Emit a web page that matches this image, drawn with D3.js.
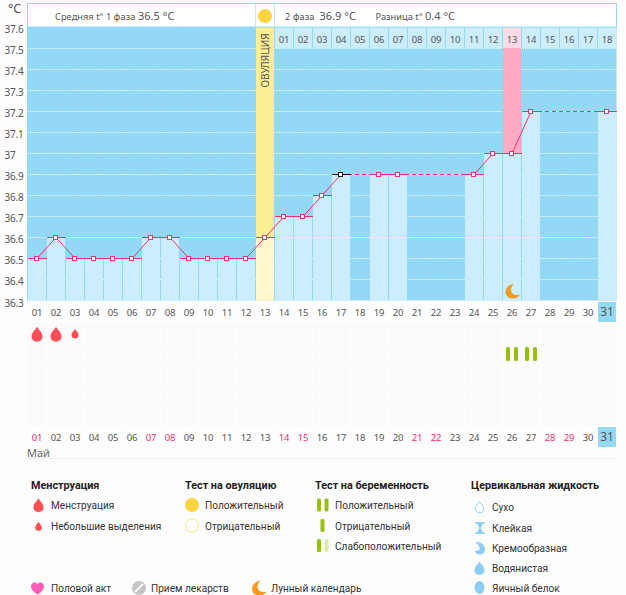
<!DOCTYPE html>
<html>
<head>
<meta charset="utf-8">
<script src="https://cdn.jsdelivr.net/npm/d3@7/dist/d3.min.js"></script>
<style>
html, body { margin: 0; padding: 0; background: #fdfdfd; overflow: hidden; }
svg { display: block; }
text { font-family: "Noto Sans", sans-serif; fill: #555; }
.legend text { font-family: Roboto, sans-serif; fill: #333; font-size: 10.1px; }
.legend text.title { font-weight: 700; font-size: 10.8px; fill: #222; }
</style>
</head>
<body>
<div id="chart"></div>
<script>
// values
const days = d3.range(1, 32).map(d => String(d).padStart(2, "0"));
const temps = [36.5, 36.6, 36.5, 36.5, 36.5, 36.5, 36.6, 36.6, 36.5, 36.5, 36.5, 36.5, 36.6, 36.7, 36.7, 36.8, 36.9,
    null, 36.9, 36.9, null, null, null, 36.9, 37, 37, 37.2, null, null, null, 37.2];
const tempTicks = [37.6, 37.5, 37.4, 37.3, 37.2, 37.1, 37, 36.9, 36.8, 36.7, 36.6, 36.5, 36.4, 36.3];
const secondPhaseDays = days.slice(13);
const secondPhaseLabels = d3.range(1, 19).map(d => String(d).padStart(2, "0"));
const redDays = ["01", "07", "08", "14", "15", "21", "22", "28", "29"];
const mensesDays = ["01", "02"];
const spottingDays = ["03"];
const pregTestDays = ["26", "27"];
const ovulationDay = "13";
const pinkDay = "26";
const today = "17";
const todayMonthDay = "31";
const coverline = 36.6;
const rows = [0, 1, 2, 3, 4];

const legendMenses = ["Менструация", "Небольшие выделения"];
const legendOvul = ["Положительный", "Отрицательный"];
const legendPreg = ["Положительный", "Отрицательный", "Слабоположительный"];
const legendFluid = ["Сухо", "Клейкая", "Кремообразная", "Водянистая", "Яичный белок"];

const PINK = "#f2316c", BLUE = "#93d9f5", LIGHT = "#cbedfd", GREEN = "#97c00e", DROP = "#ff4d55", FLUID = "#8ccdf3";

const W = 626, H = 595;
const svg = d3.select("#chart").append("svg").attr("width", W).attr("height", H);

const x = d3.scaleBand().domain(days).range([27.5, 616.5]);
const y = d3.scaleLinear().domain([36.3, 37.6]).range([300.5, 26.5]);
const cx = d => x(d) + x.bandwidth() / 2;
const crispY = v => Math.round(y(v)) + 0.5;
const colW = x.bandwidth() - 1;

const defs = svg.append("defs");
const pat = defs.append("pattern").attr("id", "hatch").attr("width", 2).attr("height", 2)
    .attr("patternUnits", "userSpaceOnUse");
pat.append("rect").attr("width", 2).attr("height", 2).attr("fill", "#fcfcfc");
pat.append("rect").attr("width", 1).attr("height", 1).attr("fill", "#f6f6f6");

// =========================
// PLOT BACKGROUND
// =========================
svg.append("rect").attr("x", 27).attr("y", y(37.6)).attr("width", 589.5)
    .attr("height", y(36.3) - y(37.6)).attr("fill", BLUE);

// dotted grid
svg.append("g").selectAll("line").data(tempTicks.slice(1))
    .join("line")
    .attr("x1", 28).attr("x2", 616)
    .attr("y1", d => crispY(d)).attr("y2", d => crispY(d))
    .attr("stroke", "#fff").attr("stroke-dasharray", "1 1.2");

// ovulation + pink columns (upper part)
svg.append("rect").attr("x", x(ovulationDay) + 0.5).attr("width", colW)
    .attr("y", y(37.6)).attr("height", y(36.3) - y(37.6)).attr("fill", "#fcef93");
svg.append("rect").attr("x", x(pinkDay) + 0.5).attr("width", colW)
    .attr("y", y(37.5)).attr("height", y(37) - y(37.5)).attr("fill", "#ffabc1");

// bars under the temperature
svg.append("g").selectAll("rect")
    .data(days.map((d, i) => ({ day: d, t: temps[i] })).filter(d => d.t !== null))
    .join("rect")
    .attr("x", d => x(d.day) + 0.5)
    .attr("width", colW)
    .attr("y", d => y(d.t))
    .attr("height", d => y(36.3) - y(d.t))
    .attr("fill", d => d.day === ovulationDay ? "#fff8cc" : LIGHT);

// coverline
svg.append("line").attr("x1", 47).attr("x2", 590)
    .attr("y1", crispY(coverline)).attr("y2", crispY(coverline))
    .attr("stroke", "#f8f4a8");

// =========================
// HEADER
// =========================
svg.append("rect").attr("x", 27.5).attr("y", 3.5).attr("width", 589).attr("height", 23.5)
    .attr("fill", "#fff").attr("stroke", BLUE);
svg.append("line").attr("x1", 255.5).attr("x2", 255.5).attr("y1", 3.5).attr("y2", 27).attr("stroke", "#c6e9f8");
svg.append("line").attr("x1", 274.5).attr("x2", 274.5).attr("y1", 3.5).attr("y2", 27).attr("stroke", "#c6e9f8");
svg.append("circle").attr("cx", cx(ovulationDay)).attr("cy", 16).attr("r", 7).attr("fill", "#fdd343");

const headerText = [
    ["Средняя t° 1 фаза", 55, 9.3], ["36.5 °C", 138, 11],
    ["2 фаза", 285, 9.3], ["36.9 °C", 319.5, 11],
    ["Разница t°", 375.5, 9.3], ["0.4 °C", 425, 11]
];
svg.append("g").selectAll("text").data(headerText).join("text")
    .attr("x", d => d[1]).attr("y", 19.5)
    .style("font-size", d => d[2] + "px")
    .text(d => d[0]);

svg.append("text").attr("x", 8).attr("y", 13).style("font-size", "12.5px").text("°C");

svg.append("text")
    .attr("transform", `translate(${cx(ovulationDay) + 3.5},87.5) rotate(-90)`)
    .style("font-size", "10px").text("ОВУЛЯЦИЯ");

// second phase day numbers
const phaseX = d3.scaleOrdinal().domain(secondPhaseLabels).range(secondPhaseDays);
svg.append("g").selectAll("rect").data(secondPhaseDays).join("rect")
    .attr("x", d => x(d) + 0.5).attr("y", 27.5).attr("width", colW).attr("height", 20.5)
    .attr("fill", d => d === pinkDay ? "#fcdbe5" : LIGHT);
svg.append("g").selectAll("text").data(secondPhaseLabels).join("text")
    .attr("x", d => cx(phaseX(d))).attr("y", 43).attr("text-anchor", "middle")
    .style("font-size", "9.5px").style("letter-spacing", "-0.2px").text(d => d);

// =========================
// AXES
// =========================
const yAxis = svg.append("g").attr("transform", "translate(27,0)")
    .call(d3.axisLeft(y).tickValues(tempTicks).tickSize(0).tickFormat(d => String(d)));
yAxis.select(".domain").remove();
yAxis.selectAll("text").attr("x", -22.5).attr("text-anchor", "start")
    .attr("dy", "0.55em").style("font-size", "10px").style("letter-spacing", "-0.2px").style("font-family", null);

function dayAxis(top) {
    const g = svg.append("g").attr("transform", `translate(0,${top})`)
        .call(d3.axisBottom(x).tickSize(0).tickFormat(d => d));
    g.select(".domain").remove();
    g.selectAll("text").style("font-size", "9.5px").style("letter-spacing", "-0.2px").style("font-family", null);
    return g;
}
// highlighted current day cells sit under the labels
svg.append("g").selectAll("rect").data([302, 427]).join("rect")
    .attr("x", x(todayMonthDay) + 0.5).attr("y", d => d).attr("width", colW).attr("height", 20).attr("fill", BLUE);

const axisTop = dayAxis(306);
const axisBot = dayAxis(431);
axisBot.selectAll("text").style("fill", d => redDays.includes(d) ? "#f2316c" : null);
[axisTop, axisBot].forEach(g => g.selectAll("text")
    .filter(d => d === todayMonthDay).style("font-size", "12px").attr("dy", "0.6em"));

svg.append("text").attr("x", 27).attr("y", 457).style("font-size", "11px").style("fill", "#666")
    .text("Май");
svg.append("line").attr("x1", 26).attr("x2", 616).attr("y1", 458.5).attr("y2", 458.5).attr("stroke", "#eee");

// =========================
// TEMPERATURE LINE
// =========================
const measured = days.map((d, i) => ({ day: d, t: temps[i] })).filter(d => d.t !== null);
const line = d3.line().x(d => cx(d.day)).y(d => crispY(d.t));
const isGap = d => days.indexOf(d[1].day) - days.indexOf(d[0].day) > 1;

svg.append("g").selectAll("path").data(d3.pairs(measured)).join("path")
    .attr("d", line)
    .attr("fill", "none")
    .attr("stroke", PINK)
    .attr("stroke-width", 1)
    .attr("stroke-dasharray", d => isGap(d) ? "4 3" : null);

svg.append("g").selectAll("line").data(measured).join("line")
    .attr("x1", d => x(d.day)).attr("x2", d => x(d.day) + x.bandwidth())
    .attr("y1", d => crispY(d.t)).attr("y2", d => crispY(d.t))
    .attr("stroke", d => d.day === today ? "#111" : PINK).attr("shape-rendering", "crispEdges");

svg.append("g").selectAll("rect").data(measured).join("rect")
    .attr("x", d => cx(d.day) - 2.5).attr("y", d => crispY(d.t) - 2)
    .attr("width", 4).attr("height", 4)
    .attr("fill", "#fff").attr("shape-rendering", "crispEdges")
    .attr("stroke", d => d.day === today ? "#111" : PINK).attr("stroke-width", 1);

// moon on the pink day
const moonPath = "M1.5,-7.5 C-3.5,-6.5 -7,-3 -7,1 C-7,5 -3.5,7.5 0,7.5 C3.5,7.5 6,6 7.5,3.5 C3.5,5 -1,3.5 -1.5,-0.5 C-1.8,-3 -0.5,-5.5 1.5,-7.5 Z";
svg.append("path").attr("d", moonPath).attr("fill", "#f39a1c")
    .attr("transform", `translate(${cx(pinkDay) + 0.5},291)`);

// =========================
// TRACKER CELLS
// =========================
const rowY = d3.scaleBand().domain(rows).range([324, 427]);
svg.append("g").selectAll("g").data(rows).join("g")
    .selectAll("rect").data(r => days.map(d => ({ r, d }))).join("rect")
    .attr("x", d => x(d.d) + 0.5).attr("width", colW)
    .attr("y", d => rowY(d.r)).attr("height", rowY.bandwidth() - 1.5)
    .attr("fill", "url(#hatch)");

const dropPath = "M0,-10 C1.5,-6.5 7,-3 7,2.5 C7,6.5 4,9 0,9 C-4,9 -7,6.5 -7,2.5 C-7,-3 -1.5,-6.5 0,-10 Z";
function drop(parent, px, py, s, fill) {
    return parent.append("path").attr("d", dropPath).attr("fill", fill)
        .attr("transform", `translate(${px},${py}) scale(${s})`);
}
mensesDays.forEach(d => drop(svg, cx(d), 334.5, 0.78, DROP));
spottingDays.forEach(d => drop(svg, cx(d), 334, 0.5, DROP));

function pill(parent, px, py, h, fill) {
    parent.append("rect").attr("x", px - 2).attr("y", py - h / 2).attr("width", 4).attr("height", h)
        .attr("rx", 1.5).attr("fill", fill);
}
pregTestDays.forEach(d => {
    pill(svg, cx(d) - 4, 354, 14, GREEN);
    pill(svg, cx(d) + 4, 354, 14, GREEN);
});

// =========================
// LEGEND
// =========================
const legend = svg.append("g").attr("class", "legend");
function title(px, s) { legend.append("text").attr("class", "title").attr("x", px).attr("y", 489).text(s); }
function item(px, py, s) { legend.append("text").attr("x", px).attr("y", py + 4).text(s); }

title(31, "Менструация");
title(185, "Тест на овуляцию");
title(315, "Тест на беременность");
title(471, "Цервикальная жидкость");

const rowsMain = [505, 526, 546];
legendMenses.forEach((s, i) => item(51, rowsMain[i], s));
legendOvul.forEach((s, i) => item(205, rowsMain[i], s));
legendPreg.forEach((s, i) => item(335, rowsMain[i], s));

drop(legend, 38.5, 505.5, 0.72, DROP);
drop(legend, 38.5, 526.5, 0.48, DROP);

legend.append("circle").attr("cx", 192).attr("cy", 505).attr("r", 7).attr("fill", "#fdd343");
legend.append("circle").attr("cx", 192).attr("cy", 525.5).attr("r", 6.5).attr("fill", "#fff").attr("stroke", "#fde27a");

pill(legend, 319, 505, 13, GREEN);
pill(legend, 326.5, 505, 13, GREEN);
pill(legend, 322.5, 525.5, 13, GREEN);
pill(legend, 319, 545.5, 13, GREEN);
pill(legend, 326.5, 545.5, 13, "#dcebb4");

const fluidRows = [507, 528, 548, 568, 588];
legendFluid.forEach((s, i) => item(492, fluidRows[i], s));
drop(legend, 479.5, 507.5, 0.6, "#fff").attr("stroke", FLUID).attr("stroke-width", 1.6);
legend.append("path").attr("d", "M-5,-6 H5 V-4.5 H3 C2,-2 0.8,-1 0.8,0 C0.8,1 2,2 3,4.5 H5 V6 H-5 V4.5 H-3 C-2,2 -0.8,1 -0.8,0 C-0.8,-1 -2,-2 -3,-4.5 H-5 Z")
    .attr("fill", FLUID).attr("transform", "translate(480,528)");
legend.append("path").attr("d", "M-4.5,-6 C1,-6.5 5,-3 5,1.5 C5,4.5 2.5,6.5 -0.5,6.5 C-3,6.5 -5,5 -5,2.5 C-2.5,3.5 0.5,2 -0.5,-0.5 C-1,-2.5 -3,-4 -4.5,-6 Z")
    .attr("fill", FLUID).attr("transform", "translate(480,548)");
drop(legend, 479.5, 568.5, 0.72, FLUID);
legend.append("ellipse").attr("cx", 479.5).attr("cy", 587.5).attr("rx", 5).attr("ry", 6.5).attr("fill", FLUID);

// bottom row
item(51, 588, "Половой акт");
item(151, 588, "Прием лекарств");
item(271, 588, "Лунный календарь");

legend.append("path")
    .attr("d", "M0,6.5 C-3,4.5 -6.5,2 -6.5,-1.5 C-6.5,-4 -4.5,-5.5 -3,-5.5 C-1.5,-5.5 -0.5,-4.8 0,-3.8 C0.5,-4.8 1.5,-5.5 3,-5.5 C4.5,-5.5 6.5,-4 6.5,-1.5 C6.5,2 3,4.5 0,6.5 Z")
    .attr("fill", "#ff5cb8").attr("transform", "translate(37.5,588)");
legend.append("circle").attr("cx", 139).attr("cy", 588).attr("r", 7).attr("fill", "#c4c4c4");
legend.append("line").attr("x1", 135).attr("y1", 592).attr("x2", 143).attr("y2", 584)
    .attr("stroke", "#fff").attr("stroke-width", 1.8);
legend.append("path").attr("d", moonPath).attr("fill", "#f39a1c").attr("transform", "translate(259,588)");
</script>
</body>
</html>
